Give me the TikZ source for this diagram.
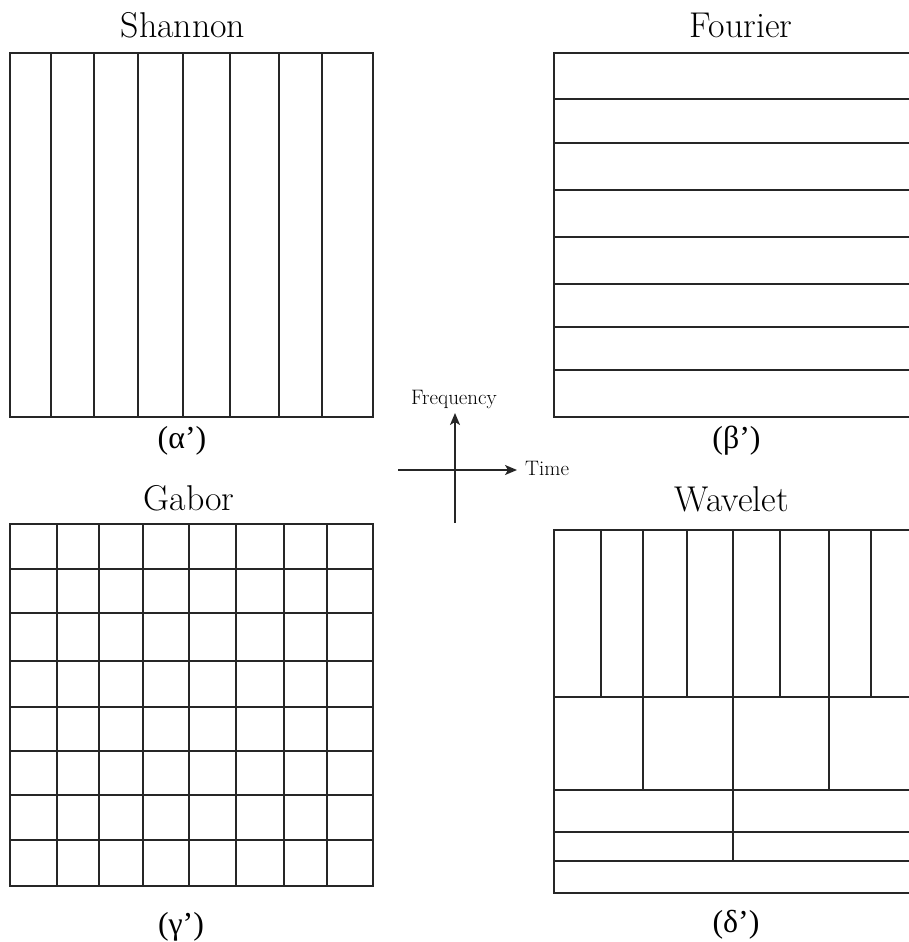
\documentclass[tikz,border=0pt]{standalone}
\usepackage{fontspec}
\newfontfamily\labfont{Liberation Serif}
\usetikzlibrary{arrows.meta}
\begin{document}
\begin{tikzpicture}[x=1bp,y=-1bp,
  grid/.style={line width=1.6bp,black!85},
  ttl/.style={font=\fontsize{36}{40}\selectfont,anchor=base,inner sep=0pt},
  lab/.style={font={\labfont\fontsize{32}{36}\selectfont},inner sep=0pt},
  axis/.style={line width=1.6bp,black!85,-{Stealth[length=12bp,width=10bp,inset=3bp]}},
  axlab/.style={font=\fontsize{21}{24}\selectfont,inner sep=0pt}]
\useasboundingbox (0,0) rectangle (909,942);
\clip (0,0) rectangle (909,942);
% Shannon
\draw[grid] (10,53) rectangle (373,417);
\foreach \x in {51,94,138,183,230,279,322}
  \draw[grid] (\x,53) -- (\x,417);
\node[ttl] (tsh) at (183,37) {Shannon};
\node[lab] (la) at (182,441) {(α’)};
% Fourier
\draw[grid] (920,53) -- (554,53) -- (554,417) -- (920,417);
\foreach \y in {99,143,190,237,284,327,370}
  \draw[grid] (554,\y) -- (920,\y);
\node[ttl] (tfo) at (741,37) {Fourier};
\node[lab] (lb) at (736.5,441) {(β’)};
% Gabor
\draw[grid] (10,524) rectangle (373,886);
\foreach \x in {57,99,143,189,236,284,327}
  \draw[grid] (\x,524) -- (\x,886);
\foreach \y in {569,613,661,707,751,795,840}
  \draw[grid] (10,\y) -- (373,\y);
\node[ttl] (tga) at (189,510) {Gabor};
\node[lab] (lc) at (181,927) {(γ’)};
% Wavelet
\draw[grid] (920,530) -- (554,530) -- (554,893) -- (920,893);
\foreach \y in {697,790,832,861}
  \draw[grid] (554,\y) -- (920,\y);
\foreach \x in {601,643,687,733,780,829,871}
  \draw[grid] (\x,530) -- (\x,697);
\foreach \x in {643,733,829}
  \draw[grid] (\x,697) -- (\x,790);
\draw[grid] (733,790) -- (733,861);
\node[ttl] (twa) at (732,511) {Wavelet};
\node[lab] (ld) at (736,925) {(δ’)};
% axes
\coordinate (hl) at (398,470);
\coordinate (hr) at (517,470);
\coordinate (vb) at (455,523);
\coordinate (vt) at (455,413);
\draw[axis] (hl) -- (hr);
\draw[axis] (vb) -- (vt);
\node[axlab,anchor=base] (fq) at (454,404) {Frequency};
\node[axlab,anchor=base west] (tm) at (525,475) {Time};
\end{tikzpicture}
\end{document}
